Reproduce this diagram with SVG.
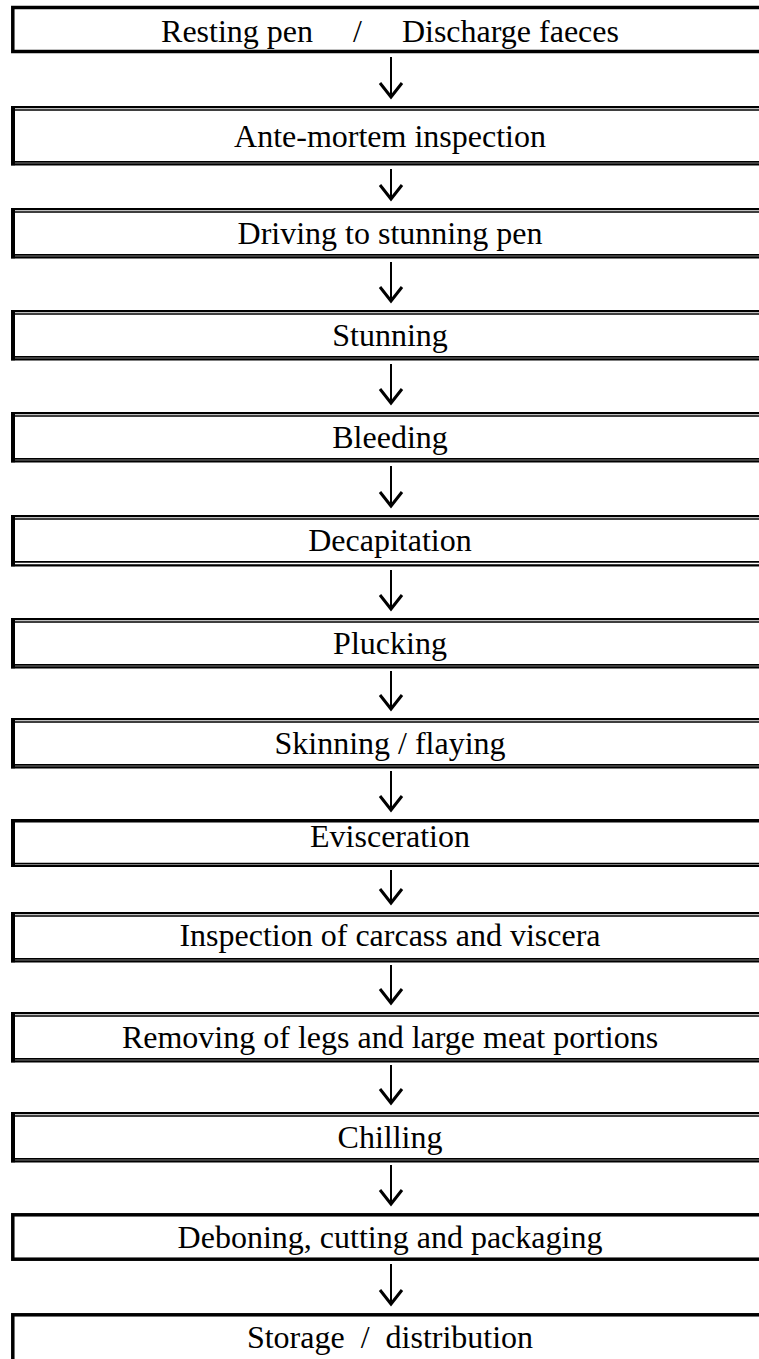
<svg xmlns="http://www.w3.org/2000/svg" width="759" height="1359" viewBox="0 0 759 1359">
<style>
text{font-family:"Liberation Serif","Times New Roman",serif;font-size:32px;fill:#000;text-anchor:middle}
.s{fill:none;stroke:#000;stroke-width:3.5}
.o{stroke:#000;stroke-width:2.2;fill:none}
.i{stroke:#000;stroke-width:1.6;fill:none}
.L{fill:#000}
.stem{stroke:#000;stroke-width:2;fill:none}
</style>
<defs>
<marker id="ah" markerUnits="userSpaceOnUse" viewBox="-16 -16 32 32" markerWidth="32" markerHeight="32" refX="0" refY="0" orient="auto" overflow="visible">
<path d="M-14,-11 L0,0 L-14,11" fill="none" stroke="#000" stroke-width="3"/>
</marker>
</defs>
<g id="n1"><rect class="s" x="12.8" y="7.5" width="800" height="44"/><text x="390" y="42" xml:space="preserve">Resting pen     /     Discharge faeces</text></g>
<g id="n2"><path class="o" d="M11,107.1H790M11,164.3H790"/><path class="i" d="M13,110H790M13,161.9H790"/><rect class="L" x="11" y="106" width="4" height="59.3"/><text x="390" y="147">Ante-mortem inspection</text></g>
<g id="n3"><path class="o" d="M11,209.1H790M11,257.3H790"/><path class="i" d="M13,212H790M13,254.9H790"/><rect class="L" x="11" y="208" width="4" height="50.3"/><text x="390" y="244">Driving to stunning pen</text></g>
<g id="n4"><path class="o" d="M11,311.1H790M11,359.3H790"/><path class="i" d="M13,314H790M13,356.9H790"/><rect class="L" x="11" y="310" width="4" height="50.3"/><text x="390" y="346">Stunning</text></g>
<g id="n5"><path class="o" d="M11,413.1H790M11,461.3H790"/><path class="i" d="M13,416H790M13,458.9H790"/><rect class="L" x="11" y="412" width="4" height="50.3"/><text x="390" y="448">Bleeding</text></g>
<g id="n6"><path class="o" d="M11,516.1H790M11,565.3H790"/><path class="i" d="M13,519H790M13,561.9H790"/><rect class="L" x="11" y="515" width="4" height="51.3"/><text x="390" y="551">Decapitation</text></g>
<g id="n7"><path class="o" d="M11,619.1H790M11,667.3H790"/><path class="i" d="M13,622H790M13,664.9H790"/><rect class="L" x="11" y="618" width="4" height="50.3"/><text x="390" y="654">Plucking</text></g>
<g id="n8"><path class="o" d="M11,719.1H790M11,767.3H790"/><path class="i" d="M13,722H790M13,764.9H790"/><rect class="L" x="11" y="718" width="4" height="50.3"/><text x="390" y="754">Skinning / flaying</text></g>
<g id="n9"><path class="s" d="M11,820.8H790"/><path class="o" d="M11,866H790"/><path class="i" d="M13,863.6H790"/><rect class="L" x="11" y="819" width="4" height="48"/><text x="390" y="847">Evisceration</text></g>
<g id="n10"><path class="o" d="M11,913.1H790M11,961.3H790"/><path class="i" d="M13,916H790M13,958.9H790"/><rect class="L" x="11" y="912" width="4" height="50.3"/><text x="390" y="946">Inspection of carcass and viscera</text></g>
<g id="n11"><path class="o" d="M11,1013.1H790M11,1061.3H790"/><path class="i" d="M13,1016H790M13,1058.9H790"/><rect class="L" x="11" y="1012" width="4" height="50.3"/><text x="390" y="1048">Removing of legs and large meat portions</text></g>
<g id="n12"><path class="o" d="M11,1113.1H790M11,1161.3H790"/><path class="i" d="M13,1116H790M13,1158.9H790"/><rect class="L" x="11" y="1112" width="4" height="50.3"/><text x="390" y="1148">Chilling</text></g>
<g id="n13"><rect class="s" x="12.8" y="1214.8" width="800" height="44.4"/><text x="390" y="1248">Deboning, cutting and packaging</text></g>
<g id="n14"><rect class="s" x="12.8" y="1314.8" width="800" height="80"/><text x="390" y="1348" xml:space="preserve">Storage  /  distribution</text></g>
<g id="connectors">
<path class="stem" marker-end="url(#ah)" d="M391,57V97"/>
<path class="stem" marker-end="url(#ah)" d="M391,169V199"/>
<path class="stem" marker-end="url(#ah)" d="M391,262V301"/>
<path class="stem" marker-end="url(#ah)" d="M391,364V403"/>
<path class="stem" marker-end="url(#ah)" d="M391,466V506"/>
<path class="stem" marker-end="url(#ah)" d="M391,570V609"/>
<path class="stem" marker-end="url(#ah)" d="M391,671V709"/>
<path class="stem" marker-end="url(#ah)" d="M391,771V810"/>
<path class="stem" marker-end="url(#ah)" d="M391,870V903"/>
<path class="stem" marker-end="url(#ah)" d="M391,965V1003"/>
<path class="stem" marker-end="url(#ah)" d="M391,1065V1103"/>
<path class="stem" marker-end="url(#ah)" d="M391,1165V1204"/>
<path class="stem" marker-end="url(#ah)" d="M391,1264V1304"/>
</g>
</svg>
